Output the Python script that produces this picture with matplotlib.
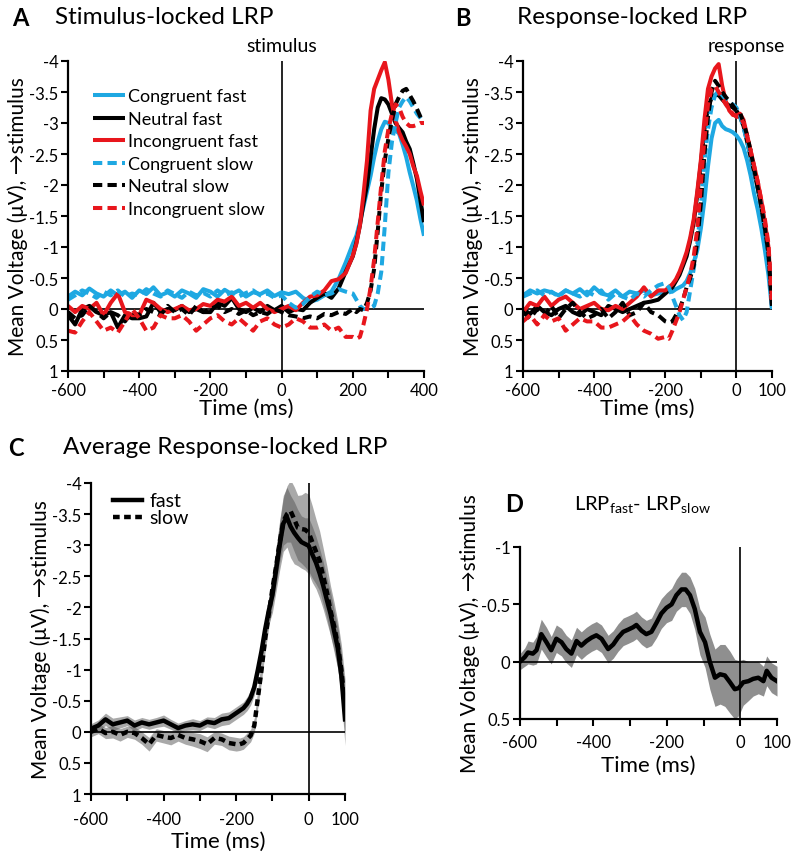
import numpy as np
import matplotlib
matplotlib.use("Agg")
import matplotlib.pyplot as plt
from matplotlib.ticker import FuncFormatter

plt.rcParams['font.family'] = ['Lato', 'DejaVu Sans']
plt.rcParams['axes.unicode_minus'] = False

# ---- panel A: stimulus-locked LRP (uV, negative = up) ----
t_a = np.concatenate([np.arange(-600, 200, 20), np.arange(200, 401, 10)])

cong_fast_a = [-0.20, -0.28, -0.22, -0.33, -0.25, -0.20, -0.30, -0.22, -0.28, -0.18,
               -0.30, -0.24, -0.35, -0.22, -0.27, -0.20, -0.30, -0.25, -0.18, -0.32,
               -0.28, -0.20, -0.31, -0.24, -0.30, -0.20, -0.27, -0.24, -0.30, -0.21,
               -0.27, -0.24, -0.28, -0.18, -0.12, -0.15, -0.22, -0.28, -0.48, -0.75,
               -1.05, -1.18, -1.40, -1.65, -1.90, -2.15, -2.45, -2.70, -2.90, -3.02,
               -3.00, -2.92, -2.88, -2.83, -2.65, -2.45, -2.20, -1.98, -1.75, -1.45, -1.18]
neut_fast_a = [0.10, 0.25, 0.00, -0.05, 0.05, 0.10, 0.05, 0.30, 0.10, 0.15,
               0.15, 0.12, -0.10, 0.05, 0.00, 0.02, -0.05, 0.05, 0.00, 0.05,
               0.05, -0.10, -0.05, -0.18, 0.00, 0.05, -0.02, 0.05, -0.05, 0.02,
               -0.05, 0.05, 0.00, 0.02, -0.10, -0.18, -0.25, -0.18, -0.33, -0.60,
               -0.85, -1.07, -1.35, -1.70, -2.00, -2.45, -2.90, -3.25, -3.40, -3.38,
               -3.30, -3.15, -3.00, -2.92, -2.85, -2.70, -2.58, -2.35, -2.10, -1.75, -1.40]
inco_fast_a = [-0.05, 0.05, -0.05, 0.00, -0.10, 0.10, -0.10, -0.25, 0.05, 0.10,
               0.10, -0.15, -0.10, 0.00, 0.05, 0.00, -0.05, 0.02, 0.00, -0.08,
               -0.05, -0.15, -0.12, -0.20, -0.05, -0.10, -0.02, -0.10, 0.00, 0.05,
               0.00, -0.05, 0.02, -0.10, -0.20, -0.22, -0.30, -0.45, -0.48, -0.58,
               -0.86, -1.05, -1.35, -1.85, -2.40, -3.20, -3.55, -3.70, -3.85, -3.98,
               -3.70, -3.30, -3.05, -2.85, -2.72, -2.62, -2.50, -2.30, -2.15, -1.90, -1.67]
cong_slow_a = [-0.15, -0.22, -0.30, -0.25, -0.18, -0.28, -0.22, -0.30, -0.20, -0.25,
               -0.22, -0.32, -0.25, -0.20, -0.30, -0.24, -0.18, -0.28, -0.22, -0.26,
               -0.20, -0.30, -0.22, -0.27, -0.20, -0.26, -0.30, -0.22, -0.25, -0.18,
               -0.22, -0.10, -0.02, -0.08, -0.20, -0.28, -0.22, -0.25, -0.32, -0.28,
               -0.25, -0.15, -0.05, 0.00, 0.00, -0.02, -0.05, -0.25, -0.60, -1.35,
               -2.20, -2.70, -3.00, -3.25, -3.35, -3.42, -3.35, -3.25, -3.15, -3.08, -3.00]
neut_slow_a = [0.05, 0.15, 0.10, -0.05, 0.05, 0.15, 0.05, 0.10, 0.20, 0.05,
               0.10, 0.00, 0.05, 0.10, -0.05, 0.05, 0.00, 0.10, -0.05, 0.05,
               0.00, -0.05, 0.05, 0.00, 0.08, 0.02, 0.10, 0.05, 0.08, 0.00,
               0.05, 0.10, 0.12, 0.15, 0.12, 0.15, 0.08, 0.10, 0.05, 0.08,
               0.00, 0.05, 0.00, 0.02, -0.10, -0.30, -0.65, -1.25, -1.90, -2.40,
               -2.75, -3.05, -3.30, -3.42, -3.52, -3.55, -3.45, -3.35, -3.23, -3.10, -3.00]
inco_slow_a = [0.35, 0.38, 0.20, 0.05, 0.20, 0.35, 0.30, 0.38, 0.20, 0.00,
               0.15, 0.35, 0.30, 0.10, 0.15, 0.15, 0.10, 0.20, 0.35, 0.25,
               0.15, 0.10, 0.20, 0.25, 0.15, 0.25, 0.35, 0.20, 0.15, 0.25,
               0.30, 0.25, 0.15, 0.20, 0.30, 0.30, 0.25, 0.35, 0.30, 0.45,
               0.45, 0.48, 0.45, 0.25, 0.00, -0.35, -0.80, -1.40, -2.00, -2.55,
               -2.90, -3.15, -3.30, -3.25, -3.10, -3.00, -2.95, -2.95, -2.97, -3.00, -3.00]

# ---- panel B: response-locked LRP ----
t_b = np.concatenate([np.arange(-600, -200, 20), np.arange(-200, 101, 10)])

cong_fast_b = [-0.22, -0.30, -0.25, -0.30, -0.27, -0.22, -0.30, -0.25, -0.32, -0.22,
               -0.35, -0.25, -0.22, -0.30, -0.20, -0.28, -0.25, -0.30, -0.22, -0.25,
               -0.28, -0.30, -0.28, -0.32, -0.35, -0.38, -0.45, -0.58, -0.75, -0.95,
               -1.30, -1.75, -2.30, -2.75, -3.00, -3.05, -2.95, -2.90, -2.88, -2.85,
               -2.80, -2.72, -2.60, -2.40, -2.15, -1.85, -1.60, -1.30, -0.95, -0.55, 0.00]
neut_fast_b = [0.00, 0.08, -0.05, 0.05, 0.10, 0.00, -0.05, 0.05, 0.10, 0.00,
               0.05, 0.10, -0.05, 0.00, 0.05, 0.00, -0.05, -0.10, -0.12, -0.15,
               -0.25, -0.30, -0.35, -0.45, -0.55, -0.70, -0.85, -1.10, -1.40, -1.85,
               -2.35, -2.90, -3.25, -3.40, -3.45, -3.45, -3.38, -3.32, -3.28, -3.25,
               -3.20, -3.10, -2.95, -2.70, -2.45, -2.20, -1.95, -1.65, -1.30, -0.90, -0.05]
inco_fast_b = [0.05, -0.10, -0.05, -0.20, -0.05, -0.15, -0.20, -0.10, 0.00, -0.05,
               -0.10, 0.00, 0.02, -0.05, 0.00, -0.10, -0.20, -0.35, -0.20, -0.30,
               -0.30, -0.35, -0.40, -0.48, -0.60, -0.75, -0.92, -1.15, -1.45, -1.90,
               -2.40, -3.05, -3.55, -3.75, -3.88, -3.95, -3.60, -3.35, -3.20, -3.13,
               -3.12, -3.15, -3.05, -2.80, -2.55, -2.30, -2.05, -1.75, -1.40, -1.00, -0.05]
cong_slow_b = [-0.20, -0.25, -0.30, -0.22, -0.28, -0.20, -0.30, -0.25, -0.20, -0.28,
               -0.22, -0.30, -0.15, -0.25, -0.20, -0.15, -0.25, -0.20, -0.30, -0.38,
               -0.42, -0.35, -0.20, -0.05, 0.10, 0.18, 0.05, -0.30, -0.65, -1.05,
               -1.65, -2.35, -2.90, -3.25, -3.45, -3.52, -3.45, -3.38, -3.33, -3.30,
               -3.25, -3.12, -2.92, -2.70, -2.45, -2.20, -1.95, -1.65, -1.30, -0.85, 0.00]
neut_slow_b = [0.05, 0.15, 0.00, 0.10, -0.05, 0.15, 0.00, -0.10, 0.05, 0.15,
               0.10, 0.00, 0.15, 0.05, -0.10, 0.10, 0.05, -0.10, 0.05, 0.10,
               0.20, 0.22, 0.20, 0.10, 0.00, -0.15, -0.35, -0.50, -0.70, -1.10,
               -1.70, -2.50, -3.10, -3.50, -3.68, -3.60, -3.50, -3.42, -3.35, -3.28,
               -3.20, -3.17, -3.00, -2.80, -2.55, -2.25, -1.95, -1.65, -1.30, -0.90, -0.05]
inco_slow_b = [0.20, 0.10, 0.25, 0.10, 0.20, 0.15, 0.35, 0.25, 0.15, 0.20,
               0.20, 0.30, 0.30, 0.25, 0.20, 0.10, 0.25, 0.35, 0.40, 0.48,
               0.45, 0.48, 0.35, 0.20, 0.05, -0.15, -0.35, -0.55, -0.85, -1.30,
               -2.00, -2.75, -3.30, -3.55, -3.60, -3.50, -3.40, -3.30, -3.22, -3.15,
               -3.10, -3.10, -3.00, -2.78, -2.55, -2.30, -2.05, -1.75, -1.45, -1.05, -0.10]

# ---- panel C: average response-locked LRP with error bands ----
t_c = t_b
fast_c = [-0.05, -0.10, -0.20, -0.12, -0.15, -0.18, -0.10, -0.15, -0.12, -0.15,
          -0.18, -0.12, -0.06, -0.10, -0.12, -0.10, -0.16, -0.14, -0.20, -0.22,
          -0.30, -0.34, -0.38, -0.45, -0.55, -0.72, -1.00, -1.30, -1.65, -1.95,
          -2.20, -2.60, -3.00, -3.35, -3.45, -3.30, -3.20, -3.12, -3.05, -3.02,
          -2.99, -2.85, -2.72, -2.55, -2.35, -2.12, -1.90, -1.62, -1.35, -0.90, -0.20]
slow_c = [0.00, -0.05, 0.02, 0.00, 0.05, 0.00, 0.02, 0.10, 0.20, 0.05,
          0.08, 0.10, 0.05, 0.10, 0.12, 0.15, 0.20, 0.10, 0.12, 0.18,
          0.20, 0.20, 0.18, 0.12, 0.06, -0.10, -0.55, -1.00, -1.50, -1.90,
          -2.30, -2.65, -3.05, -3.38, -3.50, -3.55, -3.42, -3.28, -3.26, -3.25,
          -3.20, -3.05, -2.90, -2.75, -2.50, -2.25, -1.95, -1.70, -1.40, -1.00, -0.40]
fast_c_err = [0.08, 0.09, 0.10, 0.10, 0.09, 0.08, 0.09, 0.08, 0.08, 0.08,
              0.09, 0.08, 0.08, 0.08, 0.09, 0.08, 0.08, 0.09, 0.10, 0.10,
              0.10, 0.10, 0.10, 0.11, 0.12, 0.13, 0.14, 0.16, 0.18, 0.22,
              0.28, 0.34, 0.40, 0.45, 0.48, 0.50, 0.50, 0.45, 0.42, 0.42,
              0.45, 0.45, 0.42, 0.40, 0.38, 0.36, 0.35, 0.34, 0.34, 0.36, 0.42]
slow_c_err = [0.08, 0.08, 0.09, 0.10, 0.10, 0.09, 0.10, 0.10, 0.11, 0.10,
              0.10, 0.11, 0.10, 0.10, 0.11, 0.12, 0.12, 0.10, 0.10, 0.11,
              0.11, 0.10, 0.10, 0.10, 0.10, 0.12, 0.15, 0.18, 0.20, 0.22,
              0.25, 0.28, 0.32, 0.38, 0.45, 0.50, 0.52, 0.52, 0.55, 0.60,
              0.62, 0.58, 0.52, 0.48, 0.45, 0.42, 0.40, 0.38, 0.38, 0.40, 0.45]

# ---- panel D: fast minus slow difference wave ----
t_d = [-600, -587, -578, -565, -555, -542, -528, -515, -501, -487,
       -474, -460, -446, -433, -419, -405, -392, -378, -360, -346,
       -333, -319, -305, -292, -283, -269, -256, -242, -228, -215,
       -201, -187, -174, -160, -149, -137, -124, -110, -96, -83,
       -69, -55, -42, -28, -15, -4, 8, 22, 35, 49,
       63, 72, 85, 100]
diff_d = [0.00, -0.04, -0.08, -0.07, -0.10, -0.24, -0.17, -0.10, -0.20, -0.17,
          -0.11, -0.07, -0.18, -0.14, -0.18, -0.21, -0.23, -0.20, -0.11, -0.15,
          -0.21, -0.26, -0.28, -0.30, -0.32, -0.27, -0.24, -0.26, -0.34, -0.42,
          -0.47, -0.50, -0.58, -0.63, -0.63, -0.58, -0.46, -0.26, -0.17, 0.00,
          0.14, 0.11, 0.12, 0.18, 0.24, 0.23, 0.18, 0.17, 0.15, 0.14,
          0.17, 0.08, 0.14, 0.17]
diff_d_err = [0.07, 0.08, 0.10, 0.10, 0.12, 0.13, 0.13, 0.12, 0.12, 0.12,
              0.12, 0.12, 0.12, 0.12, 0.12, 0.12, 0.12, 0.12, 0.12, 0.12,
              0.12, 0.12, 0.12, 0.12, 0.12, 0.12, 0.12, 0.12, 0.13, 0.13,
              0.13, 0.14, 0.14, 0.15, 0.15, 0.16, 0.18, 0.20, 0.22, 0.24,
              0.25, 0.26, 0.27, 0.27, 0.26, 0.24, 0.20, 0.17, 0.15, 0.14,
              0.13, 0.13, 0.13, 0.13]

CYAN = '#1ea8e2'
RED = '#e8161c'
BLACK = '#000000'
YLABEL = 'Mean Voltage (\u03bcV), \u2192stimulus'


def style_axis(ax, xmin, xmax, xlabels, ymin, ymax, ystep, xpad=3, xlabelpad=0):
    ax.set_xlim(xmin, xmax)
    ax.set_ylim(ymax, ymin)
    ax.spines['top'].set_visible(False)
    ax.spines['right'].set_visible(False)
    for s in ('left', 'bottom'):
        ax.spines[s].set_linewidth(1.6)
    ax.set_xticks(np.arange(xmin, xmax + 1, 100))
    ax.set_xticklabels([str(v) if v in xlabels else '' for v in range(xmin, xmax + 1, 100)])
    ax.set_yticks(np.arange(ymin, ymax + 0.01, ystep))
    ax.yaxis.set_major_formatter(FuncFormatter(lambda v, p: '%g' % v))
    ax.tick_params(direction='out', length=5, width=1.5, labelsize=12)
    ax.tick_params(axis='x', pad=xpad)
    ax.tick_params(axis='y', pad=2)
    ax.axhline(0, color='k', lw=1.2, zorder=1)
    ax.axvline(0, color='k', lw=1.2, zorder=1)
    ax.set_xlabel('Time (ms)', fontsize=16, labelpad=xlabelpad)
    ax.set_ylabel(YLABEL, fontsize=15, labelpad=1)


def main():
    fig = plt.figure(figsize=(7.96, 8.53), dpi=100)
    W, H = 796.0, 853.0

    ax_a = fig.add_axes([68 / W, 1 - 372 / H, 356 / W, 310 / H])
    ax_b = fig.add_axes([523 / W, 1 - 372 / H, 249 / W, 310 / H])
    ax_c = fig.add_axes([91 / W, 1 - 795 / H, 254 / W, 311 / H])
    ax_d = fig.add_axes([520 / W, 1 - 720 / H, 257 / W, 172 / H])

    solid = dict(lw=2.9, solid_capstyle='butt')
    dash = dict(lw=2.9, linestyle=(0, (2.3, 1.3)))

    ax_a.plot(t_a, cong_fast_a, color=CYAN, label='Congruent fast', **solid)
    ax_a.plot(t_a, neut_fast_a, color=BLACK, label='Neutral fast', **solid)
    ax_a.plot(t_a, inco_fast_a, color=RED, label='Incongruent fast', **solid)
    ax_a.plot(t_a, cong_slow_a, color=CYAN, label='Congruent slow', **dash)
    ax_a.plot(t_a, neut_slow_a, color=BLACK, label='Neutral slow', **dash)
    ax_a.plot(t_a, inco_slow_a, color=RED, label='Incongruent slow', **dash)
    style_axis(ax_a, -600, 400, [-600, -400, -200, 0, 200, 400], -4, 1, 0.5)
    ax_a.legend(loc='upper left', bbox_to_anchor=(0.05, 0.935), frameon=False,
                fontsize=13, handlelength=1.75, handletextpad=0.2,
                labelspacing=0.36, borderaxespad=0)
    ax_a.annotate('stimulus', xy=(0, -4), xytext=(0, 5), textcoords='offset points',
                  ha='center', va='bottom', fontsize=14, annotation_clip=False)

    ax_b.plot(t_b, cong_fast_b, color=CYAN, **solid)
    ax_b.plot(t_b, neut_fast_b, color=BLACK, **solid)
    ax_b.plot(t_b, inco_fast_b, color=RED, **solid)
    ax_b.plot(t_b, cong_slow_b, color=CYAN, **dash)
    ax_b.plot(t_b, neut_slow_b, color=BLACK, **dash)
    ax_b.plot(t_b, inco_slow_b, color=RED, **dash)
    style_axis(ax_b, -600, 100, [-600, -400, -200, 0, 100], -4, 1, 0.5)
    ax_b.annotate('response', xy=(0, -4), xytext=(7, 5), textcoords='offset points',
                  ha='center', va='bottom', fontsize=14, annotation_clip=False)

    fc = np.array(fast_c)
    sc = np.array(slow_c)
    ax_c.fill_between(t_c, fc - np.array(fast_c_err), fc + np.array(fast_c_err),
                      color='#555555', alpha=0.5, lw=0)
    ax_c.fill_between(t_c, sc - np.array(slow_c_err), sc + np.array(slow_c_err),
                      color='#555555', alpha=0.5, lw=0)
    ax_c.plot(t_c, fast_c, color='k', lw=3.2, label='fast', zorder=3)
    ax_c.plot(t_c, slow_c, color='k', lw=3.2, linestyle=(0, (1.5, 1.0)),
              label='slow', zorder=3)
    style_axis(ax_c, -600, 100, [-600, -400, -200, 0, 100], -4, 1, 0.5,
               xpad=7, xlabelpad=3)
    ax_c.legend(loc='upper left', bbox_to_anchor=(0.055, 0.995), frameon=False,
                fontsize=14, handlelength=1.5, handletextpad=0.4,
                labelspacing=0.0, borderaxespad=0)

    dd = np.array(diff_d)
    de = np.array(diff_d_err)
    ax_d.fill_between(t_d, dd - de, dd + de, color='#8f8f8f', lw=0)
    ax_d.plot(t_d, diff_d, color='k', lw=3.2, zorder=3)
    style_axis(ax_d, -600, 100, [-600, -400, -200, 0, 100], -1, 0.5, 0.5,
               xpad=6, xlabelpad=3)

    fig.text(12 / W, 1 - 18 / H, 'A', fontsize=17, weight='bold', va='center')
    fig.text(55 / W, 1 - 18 / H, 'Stimulus-locked LRP', fontsize=17.5, va='center')
    fig.text(455 / W, 1 - 18 / H, 'B', fontsize=17, weight='bold', va='center')
    fig.text(517 / W, 1 - 18 / H, 'Response-locked LRP', fontsize=17.5, va='center')
    fig.text(8 / W, 1 - 448 / H, 'C', fontsize=17, weight='bold', va='center')
    fig.text(63 / W, 1 - 448 / H, 'Average Response-locked LRP', fontsize=17.5, va='center')
    fig.text(505 / W, 1 - 505 / H, 'D', fontsize=17, weight='bold', va='center')
    fig.text(574 / W, 1 - 505 / H,
             r'LRP$_{\mathregular{fast}}$- LRP$_{\mathregular{slow}}$',
             fontsize=14.5, va='center')

    fig.savefig('out.png', dpi=100)


if __name__ == '__main__':
    main()
